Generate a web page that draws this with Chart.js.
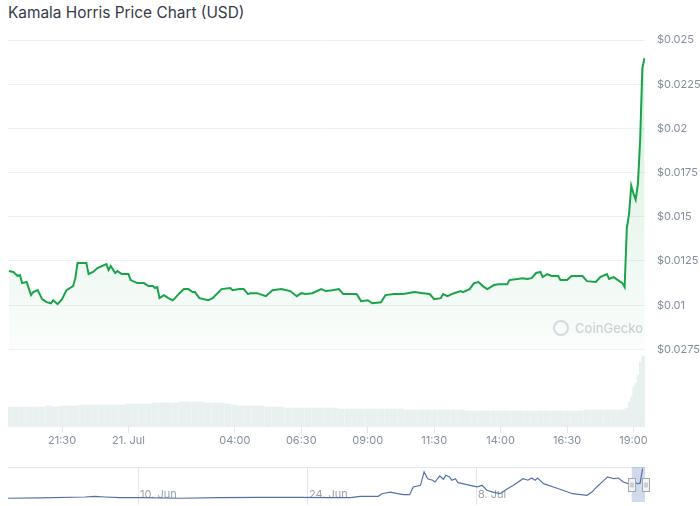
<!DOCTYPE html>
<html>
<head>
<meta charset="utf-8">
<script src="https://cdn.jsdelivr.net/npm/chart.js@4"></script>
<style>
  body { margin: 0; background: #fff; font-family: Inter, sans-serif; }
  #wrap { position: relative; width: 700px; height: 506px; overflow: hidden; }
  #title { position: absolute; left: 8px; top: 3px; font-size: 15.4px; color: #343a46; }
  canvas { position: absolute; left: 0; }
  #wm { position: absolute; left: 553px; top: 320px; color: #cdd1d7; font-size: 13px; font-weight: 500;
        display: flex; align-items: center; gap: 6px; }
  #wm .ic { width: 16px; height: 16px; border: 2px solid #d5d9de; border-radius: 50%; box-sizing: border-box; }
</style>
</head>
<body>
<div id="wrap">
  <div id="title">Kamala Horris Price Chart (USD)</div>
  <canvas id="price" width="700" height="368" style="top:0"></canvas>
  <div id="wm"><span class="ic"></span><span>CoinGecko</span></div>
  <canvas id="volume" width="700" height="115" style="top:340px"></canvas>
  <canvas id="nav" width="700" height="45" style="top:460px"></canvas>
</div>
<script>
// minutes from 21 Jul 00:00
const priceTimes = [-270,-260,-250,-245,-240,-230,-220,-215,-205,-195,
  -185,-175,-170,-160,-150,-140,-125,-120,-115,-95,
  -90,-80,-70,-50,-45,-40,-30,-25,-15,0,
  5,20,35,45,55,60,65,70,80,90,
  100,105,115,125,135,145,150,160,180,190,
  210,230,235,250,260,270,275,290,310,325,
  345,365,380,390,400,415,435,445,460,475,
  485,500,515,525,540,550,570,580,600,620,
  645,665,680,690,705,710,720,735,750,755,
  770,780,790,800,810,825,835,855,860,890,
  900,910,920,930,935,945,955,970,975,990,
  1000,1025,1035,1055,1065,1080,1085,1095,1105,1115,
  1120,1125,1130,1135,1140,1145,1150,1155,1160,1165];
const priceValues = [0.01193,0.01188,0.01165,0.01170,0.01125,0.01131,0.01057,0.01074,0.01085,0.01034,
  0.01017,0.01011,0.01028,0.01006,0.01034,0.01085,0.01108,0.01153,0.01239,0.01239,
  0.01176,0.01188,0.01210,0.01233,0.01199,0.01222,0.01182,0.01193,0.01176,0.01176,
  0.01142,0.01125,0.01125,0.01108,0.01108,0.01097,0.01102,0.01040,0.01057,0.01040,
  0.01028,0.01040,0.01068,0.01091,0.01091,0.01074,0.01074,0.01040,0.01028,0.01040,
  0.01091,0.01097,0.01085,0.01091,0.01091,0.01063,0.01068,0.01068,0.01051,0.01085,
  0.01091,0.01080,0.01051,0.01068,0.01063,0.01068,0.01091,0.01080,0.01085,0.01091,
  0.01063,0.01063,0.01063,0.01023,0.01028,0.01011,0.01017,0.01057,0.01063,0.01063,
  0.01074,0.01068,0.01063,0.01034,0.01040,0.01063,0.01051,0.01068,0.01080,0.01074,
  0.01091,0.01125,0.01131,0.01108,0.01091,0.01114,0.01119,0.01119,0.01142,0.01153,
  0.01148,0.01153,0.01182,0.01188,0.01159,0.01176,0.01165,0.01165,0.01142,0.01142,
  0.01165,0.01165,0.01136,0.01131,0.01159,0.01176,0.01148,0.01159,0.01142,0.01125,
  0.01102,0.01438,0.01517,0.01676,0.01631,0.01597,0.01688,0.01932,0.02341,0.02398];

const volTimes = [-270,-255,-240,-225,-210,-195,-180,-165,-150,-135,
  -120,-105,-90,-75,-60,-45,-30,-15,0,15,
  30,45,60,75,90,105,120,135,150,165,
  180,195,210,225,240,255,270,285,300,315,
  330,345,360,375,390,405,420,435,450,465,
  480,495,510,525,540,555,570,585,600,615,
  630,645,660,675,690,705,720,735,750,765,
  780,795,810,825,840,855,870,885,900,915,
  930,945,960,975,990,1005,1020,1035,1050,1065,
  1080,1095,1110,
  1120,1125,1130,1135,1140,1145,1150,1155,1160,1165];
const volValues = [20,20,20,20,20,20,21,20,21,21,
  21,22,22,22,22,22,22,22,23,23,
  23,23,24,24,24,24,25,25,25,25,
  24,24,24,23,22,21,21,21,21,20,
  20,20,19,19,19,19,19,19,19,19,
  18,18,18,18,18,18,18,18,18,18,
  17,17,17,17,17,17,17,17,17,16,
  16,16,16,16,16,16,16,16,16,16,
  16,16,16,16,16,16,16,17,17,17,
  17,17,17,
  17,18,19,25,30,40,44,52,65,71];

const xTickValues = [-150, 0, 240, 390, 540, 690, 840, 990, 1140];
const xTickLabels = ['21:30', '21. Jul', '04:00', '06:30', '09:00', '11:30', '14:00', '16:30', '19:00'];
const priceTickValues = [0.0075, 0.01, 0.0125, 0.015, 0.0175, 0.02, 0.0225, 0.025];
const priceTickLabels = ['$0.0275', '$0.01', '$0.0125', '$0.015', '$0.0175', '$0.02', '$0.0225', '$0.025'];

// navigator: days from 10 Jun
const navDays = [-10.8,-8.1,-4.4,-3.6,-2.7,-1.5,0.2,3.5,6.8,10.1,
  13.4,15.9,17.6,18.4,19.9,20.2,20.9,21.5,22.0,22.5,
  22.8,23.4,23.7,24.0,24.4,24.6,25.0,25.3,25.5,25.8,
  26.0,26.3,26.5,26.9,27.5,28.1,28.5,28.9,29.4,30.0,
  30.6,31.1,31.9,32.3,32.6,32.9,33.1,33.6,34.4,35.2,
  36.0,37.2,37.6,38.0,38.3,38.9,39.4,39.8,40.2,40.6,
  40.9,41.4,41.6,41.8];
const navValues = [0.0020,0.0022,0.0029,0.0033,0.0029,0.0024,0.0024,0.0020,0.0024,0.0027,
  0.0027,0.0024,0.0024,0.0034,0.0034,0.0053,0.0065,0.0053,0.0046,0.0046,
  0.0102,0.0114,0.0211,0.0162,0.0151,0.0138,0.0182,0.0158,0.0187,0.0175,
  0.0151,0.0162,0.0133,0.0126,0.0114,0.0102,0.0114,0.0078,0.0065,0.0053,
  0.0089,0.0114,0.0162,0.0151,0.0167,0.0151,0.0167,0.0126,0.0102,0.0078,
  0.0053,0.0041,0.0065,0.0102,0.0126,0.0175,0.0162,0.0167,0.0138,0.0126,
  0.0151,0.0124,0.0131,0.0235];
const navTickValues = [0, 14, 28];
const navTickLabels = ['10. Jun', '24. Jun', '8. Jul'];
const NAV_SELECT_FROM = 40.9;

const X_MIN = -272, X_MAX = 1166;
const el = id => document.getElementById(id);

Chart.defaults.font.family = 'Inter, sans-serif';
Chart.defaults.animation = false;
Chart.defaults.plugins.legend.display = false;
Chart.defaults.plugins.tooltip.enabled = false;

// Price
new Chart(el('price'), {
  type: 'line',
  data: {
    datasets: [{
      data: priceTimes.map((t, i) => ({ x: t, y: priceValues[i] })),
      borderColor: '#1ba34a',
      borderWidth: 2,
      pointRadius: 0,
      tension: 0,
      fill: 'start',
      backgroundColor: c => {
        const a = c.chart.chartArea;
        if (!a) return 'rgba(27,163,74,0.08)';
        const g = c.chart.ctx.createLinearGradient(0, a.top, 0, a.bottom);
        g.addColorStop(0, 'rgba(27,163,74,0.20)');
        g.addColorStop(1, 'rgba(27,163,74,0.02)');
        return g;
      }
    }]
  },
  options: {
    responsive: false,
    layout: { padding: { top: 40, left: 8, right: 0, bottom: 0 } },
    scales: {
      x: { type: 'linear', min: X_MIN, max: X_MAX, display: false },
      y: {
        position: 'right',
        min: 0.0075, max: 0.025,
        afterBuildTicks: s => { s.ticks = priceTickValues.map(v => ({ value: v })); },
        afterFit: s => { s.width = 55; },
        grid: { color: '#eef0f3', drawTicks: false },
        border: { display: false },
        ticks: { padding: 12, color: '#858e9d', font: { size: 11 },
                 callback: (v, i) => priceTickLabels[i] }
      }
    }
  }
});

// Volume
new Chart(el('volume'), {
  type: 'bar',
  data: {
    datasets: [{
      data: volTimes.map((t, i) => ({ x: t, y: volValues[i] })),
      backgroundColor: '#e9f1f0',
      barThickness: 6
    }]
  },
  options: {
    responsive: false,
    layout: { padding: { top: 9, left: 8, right: 55, bottom: 0 } },
    scales: {
      x: {
        type: 'linear', min: X_MIN, max: X_MAX, offset: false,
        afterBuildTicks: s => { s.ticks = xTickValues.map(v => ({ value: v })); },
        afterFit: s => { s.height = 28; },
        grid: { offset: false, drawOnChartArea: false, drawTicks: true, tickLength: 6, color: '#e3e6ea' },
        border: { display: false },
        ticks: { autoSkip: false, maxRotation: 0, padding: 1, color: '#858e9d', font: { size: 11 },
                 callback: (v, i) => xTickLabels[i] }
      },
      y: { display: false, min: 0, max: 78 }
    }
  }
});

// Navigator
const navDecor = {
  id: 'navDecor',
  beforeDatasetsDraw(chart) {
    const { ctx, chartArea: a, scales: { x } } = chart;
    ctx.save();
    ctx.strokeStyle = '#e3e6ea';
    ctx.lineWidth = 1;
    ctx.beginPath();
    ctx.moveTo(a.left, a.top + 0.5);
    ctx.lineTo(a.right, a.top + 0.5);
    navTickValues.forEach(v => {
      const px = Math.round(x.getPixelForValue(v)) + 0.5;
      ctx.moveTo(px, a.top);
      ctx.lineTo(px, a.bottom + 4);
    });
    ctx.stroke();
    ctx.fillStyle = '#9aa2ae';
    ctx.font = '11px Inter, sans-serif';
    ctx.textBaseline = 'alphabetic';
    navTickValues.forEach((v, i) => {
      ctx.fillText(navTickLabels[i], x.getPixelForValue(v) + 2, a.bottom - 3);
    });
    // selected range mask
    const x0 = x.getPixelForValue(NAV_SELECT_FROM);
    ctx.fillStyle = 'rgba(102,133,194,0.3)';
    ctx.fillRect(x0, a.top, a.right - x0, a.bottom - a.top + 1);
    ctx.restore();
  },
  afterDatasetsDraw(chart) {
    const { ctx, chartArea: a, scales: { x } } = chart;
    const x0 = x.getPixelForValue(NAV_SELECT_FROM);
    ctx.save();
    [x0, a.right].forEach(px => {
      const hx = Math.round(px - 3.5) + 0.5, hy = a.top + 11.5;
      ctx.fillStyle = '#f4f4f4';
      ctx.strokeStyle = '#a3a8b0';
      ctx.lineWidth = 1;
      ctx.fillRect(hx, hy, 7, 13);
      ctx.strokeRect(hx, hy, 7, 13);
      ctx.beginPath();
      ctx.moveTo(hx + 2.5, hy + 4); ctx.lineTo(hx + 2.5, hy + 9);
      ctx.moveTo(hx + 4.5, hy + 4); ctx.lineTo(hx + 4.5, hy + 9);
      ctx.stroke();
    });
    ctx.restore();
  }
};

new Chart(el('nav'), {
  type: 'line',
  data: {
    datasets: [{
      data: navDays.map((d, i) => ({ x: d, y: navValues[i] })),
      borderColor: '#5470a8',
      borderWidth: 1.2,
      pointRadius: 0,
      tension: 0,
      fill: false
    }]
  },
  options: {
    responsive: false,
    layout: { padding: { top: 7, left: 8, right: 55, bottom: 4 } },
    scales: {
      x: { type: 'linear', min: -10.77, max: 42.0, display: false },
      y: { min: 0, max: 0.0247, display: false }
    }
  },
  plugins: [navDecor]
});
</script>
</body>
</html>
